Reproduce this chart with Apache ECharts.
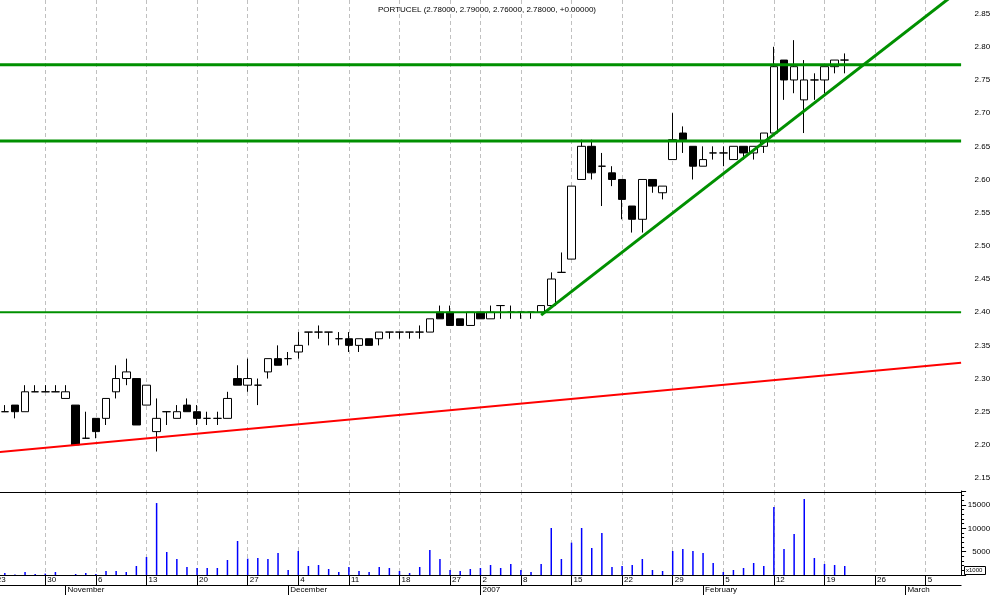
<!DOCTYPE html>
<html><head><meta charset="utf-8">
<script src="https://cdn.jsdelivr.net/npm/echarts@6/dist/echarts.min.js"></script>
<style>html,body{margin:0;padding:0;background:#fff}#c{width:994px;height:595px}</style>
</head><body><div id="c"></div>
<script>
const ticker = 'PORTUCEL';
const leadDates = ['2006-10-23'];
const tradeDates = [
 '2006-10-24','2006-10-25','2006-10-26','2006-10-27','2006-10-30','2006-10-31',
 '2006-11-01','2006-11-02','2006-11-03','2006-11-06','2006-11-07','2006-11-08','2006-11-09','2006-11-10','2006-11-13','2006-11-14','2006-11-15','2006-11-16','2006-11-17','2006-11-20','2006-11-21','2006-11-22','2006-11-23','2006-11-24','2006-11-27','2006-11-28','2006-11-29','2006-11-30',
 '2006-12-01','2006-12-04','2006-12-05','2006-12-06','2006-12-07','2006-12-08','2006-12-11','2006-12-12','2006-12-13','2006-12-14','2006-12-15','2006-12-18','2006-12-19','2006-12-20','2006-12-21','2006-12-22','2006-12-27','2006-12-28','2006-12-29',
 '2007-01-02','2007-01-03','2007-01-04','2007-01-05','2007-01-08','2007-01-09','2007-01-10','2007-01-11','2007-01-12','2007-01-15','2007-01-16','2007-01-17','2007-01-18','2007-01-19','2007-01-22','2007-01-23','2007-01-24','2007-01-25','2007-01-26','2007-01-29','2007-01-30','2007-01-31',
 '2007-02-01','2007-02-02','2007-02-05','2007-02-06','2007-02-07','2007-02-08','2007-02-09','2007-02-12','2007-02-13','2007-02-14','2007-02-15','2007-02-16','2007-02-19','2007-02-20','2007-02-21'];
const futureDates = ['2007-02-22','2007-02-23','2007-02-26','2007-02-27','2007-02-28','2007-03-01','2007-03-02','2007-03-05','2007-03-06','2007-03-07','2007-03-08'];

const opens = [2.25,2.26,2.25,2.28,2.28,2.28,
 2.27,2.26,2.21,2.24,2.24,2.28,2.30,2.30,2.26,2.22,2.25,2.24,2.26,2.25,2.24,2.24,2.24,2.30,2.29,2.29,2.31,2.33,
 2.33,2.34,2.37,2.37,2.37,2.36,2.36,2.35,2.36,2.36,2.37,2.37,2.37,2.37,2.37,2.40,2.40,2.39,2.38,
 2.40,2.39,2.41,2.40,2.40,2.40,2.40,2.41,2.46,2.48,2.60,2.65,2.62,2.61,2.60,2.56,2.54,2.60,2.58,2.63,2.67,2.65,
 2.62,2.64,2.64,2.63,2.65,2.64,2.65,2.67,2.78,2.75,2.72,2.75,2.75,2.77,2.78];
const highs = [2.26,2.26,2.29,2.29,2.29,2.29,
 2.29,2.26,2.25,2.24,2.27,2.32,2.33,2.30,2.29,2.27,2.25,2.26,2.27,2.26,2.25,2.25,2.28,2.32,2.33,2.30,2.33,2.35,
 2.34,2.37,2.37,2.38,2.37,2.37,2.37,2.36,2.36,2.37,2.37,2.37,2.37,2.38,2.39,2.41,2.41,2.39,2.40,
 2.40,2.41,2.41,2.41,2.40,2.40,2.41,2.46,2.49,2.59,2.66,2.66,2.64,2.62,2.60,2.56,2.60,2.60,2.59,2.70,2.68,2.65,
 2.65,2.65,2.65,2.65,2.65,2.65,2.67,2.80,2.78,2.81,2.78,2.76,2.77,2.78,2.79];
const lows = [2.25,2.24,2.25,2.28,2.28,2.28,
 2.27,2.20,2.21,2.21,2.23,2.27,2.29,2.23,2.26,2.19,2.23,2.24,2.25,2.23,2.23,2.23,2.24,2.29,2.28,2.26,2.30,2.32,
 2.32,2.33,2.35,2.36,2.35,2.35,2.34,2.34,2.35,2.35,2.36,2.36,2.36,2.36,2.37,2.39,2.38,2.38,2.38,
 2.39,2.39,2.39,2.39,2.39,2.39,2.40,2.41,2.46,2.48,2.60,2.60,2.56,2.59,2.54,2.52,2.52,2.58,2.57,2.63,2.64,2.60,
 2.62,2.63,2.62,2.63,2.63,2.63,2.64,2.67,2.72,2.73,2.67,2.72,2.73,2.76,2.76];
const closes = [2.25,2.25,2.28,2.28,2.28,2.28,
 2.28,2.20,2.21,2.22,2.27,2.30,2.31,2.23,2.29,2.24,2.25,2.25,2.25,2.24,2.24,2.24,2.27,2.29,2.30,2.29,2.33,2.32,
 2.33,2.35,2.37,2.37,2.37,2.36,2.35,2.36,2.35,2.37,2.37,2.37,2.37,2.37,2.39,2.39,2.38,2.38,2.40,
 2.39,2.40,2.41,2.40,2.40,2.40,2.41,2.45,2.46,2.59,2.65,2.61,2.62,2.60,2.57,2.54,2.60,2.59,2.59,2.66,2.66,2.62,
 2.63,2.64,2.64,2.65,2.64,2.65,2.67,2.77,2.75,2.77,2.75,2.75,2.77,2.78,2.78];
const volumes = [430,100,640,210,300,640,
 0,210,430,200,860,860,640,1930,3860,15420,4930,3430,1710,1500,1500,1500,3210,7280,3500,3640,3430,4710,
 1070,5140,1930,2140,1290,640,1710,860,640,1710,1500,860,430,1710,5360,3430,1070,860,1290,
 1500,2140,1500,2360,1070,640,2360,10070,3430,6930,10070,5780,9000,1710,1930,2140,3430,1070,860,5140,5570,5140,
 4710,2570,640,1070,1500,2570,1930,14570,5570,8780,16280,3640,2360,2140,1930];

// horizontal resistance/support levels (price)
const levels = [2.773, 2.658, 2.40];
// trend lines: two anchor points [date, price]
const redTrend = [['2006-10-23', 2.1886], ['2007-03-08', 2.3231]];
const greenTrend = [['2007-01-10', 2.3955], ['2007-02-20', 2.739]];

const priceTicks = [2.15,2.20,2.25,2.30,2.35,2.40,2.45,2.50,2.55,2.60,2.65,2.70,2.75,2.80,2.85];
const volumeTicks = [5000,10000,15000];
const monthNames = ['January','February','March','April','May','June','July','August','September','October','November','December'];

const axisDates = leadDates.concat(tradeDates, futureDates);
const FONT = '"Liberation Sans", Arial, sans-serif';
const dow = d => new Date(d + 'T00:00:00Z').getUTCDay();
const isWeekStart = i => i === 0 || dow(axisDates[i]) <= dow(axisDates[i - 1]);
const isMonthStart = i => i > 0 && axisDates[i].slice(5, 7) !== axisDates[i - 1].slice(5, 7);

const candleData = axisDates.map(d => {
  const k = tradeDates.indexOf(d);
  return k < 0 ? '-' : [opens[k], closes[k], lows[k], highs[k]];
});
const volData = axisDates.map(d => {
  const k = tradeDates.indexOf(d);
  return k < 0 ? '-' : volumes[k];
});

const xMin = -0.5, xMax = axisDates.length - 0.5;
function lineThrough(a, b, fromStart) {
  const i0 = axisDates.indexOf(a[0]), i1 = axisDates.indexOf(b[0]);
  const s = (b[1] - a[1]) / (i1 - i0);
  const xs = fromStart ? i0 : xMin;
  return [[xs, a[1] + (xs - i0) * s], [xMax, a[1] + (xMax - i0) * s]];
}

const n = closes.length;
const fmt = v => v.toFixed(5);
const chg = closes[n - 1] - closes[n - 2];
const titleText = ticker + ' (' + fmt(opens[n-1]) + ', ' + fmt(highs[n-1]) + ', ' + fmt(lows[n-1]) + ', ' + fmt(closes[n-1]) + ', ' + (chg >= 0 ? '+' : '') + fmt(chg) + ')';

const GREEN = '#009000';
const dashStyle = { color: '#c0c0c0', width: 1, type: [4, 3] };
const blackLine = { color: '#000', width: 1 };

const chart = echarts.init(document.getElementById('c'), null, { renderer: 'canvas' });
const levelSeries = levels.map((lv, i) => ({
  type: 'line', xAxisIndex: 1, yAxisIndex: 0, symbol: 'none', silent: true, z: 5,
  data: [[xMin, lv], [xMax, lv]],
  lineStyle: { color: GREEN, width: i < 2 ? 3 : 2 }
}));

chart.setOption({
  animation: false,
  backgroundColor: '#fff',
  textStyle: { fontFamily: FONT },
  title: {
    text: titleText, left: 373, top: 1,
    textStyle: { fontSize: 8, fontWeight: 'normal', color: '#000', fontFamily: FONT }
  },
  grid: [
    { left: -10.36, right: 32.9, top: 0, height: 492, containLabel: false, outerBoundsMode: 'none' },
    { left: -10.36, right: 32.9, top: 491, height: 84, containLabel: false, outerBoundsMode: 'none' }
  ],
  xAxis: [
    { type: 'category', gridIndex: 0, data: axisDates, boundaryGap: true,
      axisLine: { show: true, lineStyle: blackLine }, axisTick: { show: false }, axisLabel: { show: false },
      splitLine: { show: true, alignWithLabel: true, interval: i => isWeekStart(i), lineStyle: dashStyle } },
    { type: 'value', gridIndex: 0, min: xMin, max: xMax, show: false, splitLine: { show: false } },
    { type: 'category', gridIndex: 1, data: axisDates, boundaryGap: true, position: 'bottom',
      axisLine: { show: true, lineStyle: blackLine },
      axisTick: { show: true, alignWithLabel: true, interval: i => isWeekStart(i), length: 10, lineStyle: blackLine },
      axisLabel: { show: true, interval: i => isWeekStart(i), formatter: d => String(+d.slice(8)),
        align: 'left', margin: 1, fontSize: 8, color: '#000', fontFamily: FONT, padding: [0, 0, 0, 2] },
      splitLine: { show: true, alignWithLabel: true, interval: i => isWeekStart(i), lineStyle: dashStyle } },
    { type: 'category', gridIndex: 1, data: axisDates, boundaryGap: true, position: 'bottom', offset: 10,
      axisLine: { show: true, lineStyle: blackLine },
      axisTick: { show: true, alignWithLabel: true, interval: i => isMonthStart(i), length: 10, lineStyle: blackLine },
      axisLabel: { show: true, interval: i => isMonthStart(i),
        formatter: d => { const m = +d.slice(5, 7); return m === 1 ? d.slice(0, 4) : monthNames[m - 1]; },
        align: 'left', margin: 1, fontSize: 8, color: '#000', fontFamily: FONT, padding: [0, 0, 0, 2] },
      splitLine: { show: false } }
  ],
  yAxis: [
    { type: 'value', gridIndex: 0, position: 'right', min: 2.129, max: 2.8705, splitNumber: 15, scale: true,
      axisLine: { show: true, lineStyle: blackLine },
      axisTick: { show: true, length: 5, lineStyle: blackLine },
      minorTick: { show: true, splitNumber: 5, length: 3, lineStyle: blackLine },
      splitLine: { show: false },
      axisLabel: { align: 'right', margin: 29, fontSize: 8, color: '#000', fontFamily: FONT,
        formatter: v => priceTicks.some(t => Math.abs(t - v) < 1e-6) ? v.toFixed(2) : '' } },
    { type: 'value', gridIndex: 1, position: 'right', min: 0, max: 18000, interval: 5000,
      axisLine: { show: true, lineStyle: blackLine },
      axisTick: { show: true, length: 5, lineStyle: blackLine },
      minorTick: { show: true, splitNumber: 5, length: 3, lineStyle: blackLine },
      splitLine: { show: false },
      axisLabel: { align: 'right', margin: 29, fontSize: 8, color: '#000', fontFamily: FONT,
        formatter: v => volumeTicks.indexOf(v) >= 0 ? String(v) : '' } }
  ],
  graphic: [
    { type: 'rect', left: 964, top: 566, shape: { width: 21, height: 8 }, style: { fill: '#fff', stroke: '#000', lineWidth: 1 }, z: 100 },
    { type: 'text', left: 966, top: 567, style: { text: 'x1000', fontSize: 6, fill: '#000', fontFamily: FONT }, z: 101 }
  ],
  series: [
    { type: 'candlestick', xAxisIndex: 0, yAxisIndex: 0, data: candleData, barWidth: 8,
      itemStyle: { color: '#fff', color0: '#000', borderColor: '#000', borderColor0: '#000', borderColorDoji: '#000', borderWidth: 1 } },
    { type: 'bar', xAxisIndex: 2, yAxisIndex: 1, data: volData, barWidth: 1.5,
      itemStyle: { color: '#0000ff' } },
    ...levelSeries,
    { type: 'line', xAxisIndex: 1, yAxisIndex: 0, symbol: 'none', silent: true, z: 5,
      data: lineThrough(redTrend[0], redTrend[1], false), lineStyle: { color: '#ff0000', width: 2 } },
    { type: 'line', xAxisIndex: 1, yAxisIndex: 0, symbol: 'none', silent: true, z: 5, clip: true,
      data: lineThrough(greenTrend[0], greenTrend[1], true), lineStyle: { color: GREEN, width: 3 } }
  ]
});
</script>
</body></html>
